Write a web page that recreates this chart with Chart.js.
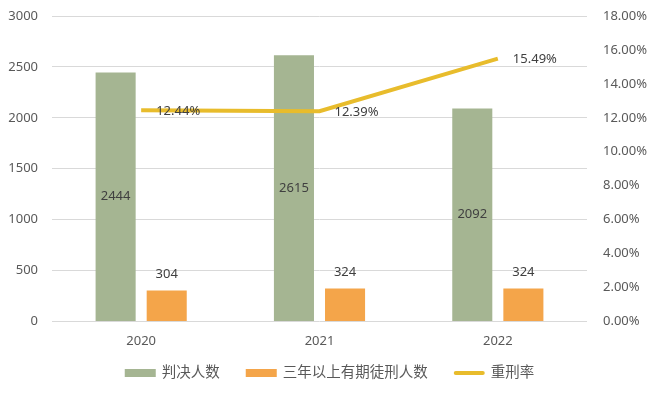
<!DOCTYPE html>
<html>
<head>
<meta charset="utf-8">
<script src="https://cdn.jsdelivr.net/npm/chart.js@4/dist/chart.umd.min.js"></script>
<style>
  html, body { margin: 0; padding: 0; background: #fff; }
  #wrap { width: 655px; height: 394px; }
</style>
</head>
<body>
<div id="wrap"><canvas id="myChart"></canvas></div>
<script>
// data
const years = ['2020', '2021', '2022'];
const judged = [2444, 2615, 2092];
const longTerm = [304, 324, 324];
const heavyRate = [12.44, 12.39, 15.49];

const leftTicks = [0, 500, 1000, 1500, 2000, 2500, 3000];
const rightTicks = [0, 2, 4, 6, 8, 10, 12, 14, 16, 18];

const FONT = "'Noto Sans', 'Noto Sans CJK SC', sans-serif";
const TEXT = '#595959';

// draws the value labels like the original
const valueLabels = {
  id: 'valueLabels',
  afterDatasetsDraw(chart) {
    const ctx = chart.ctx;
    ctx.save();
    ctx.font = '13px ' + FONT;
    ctx.fillStyle = '#404040';
    ctx.textBaseline = 'middle';
    chart.data.datasets.forEach((ds, di) => {
      const meta = chart.getDatasetMeta(di);
      meta.data.forEach((el, i) => {
        const v = ds.data[i];
        if (ds.type === 'line') {
          ctx.textAlign = 'left';
          ctx.fillText(v.toFixed(2) + '%', el.x + 15, el.y + 1);
        } else if (di === 0) {
          ctx.textAlign = 'center';
          ctx.fillText(v, el.x, (el.y + el.base) / 2);
        } else {
          ctx.textAlign = 'center';
          ctx.fillText(v, el.x, el.y - 16);
        }
      });
    });
    ctx.restore();
  }
};

// legend drawn by hand so its spacing can follow the original
const bottomLegend = {
  id: 'bottomLegend',
  afterDraw(chart) {
    const ctx = chart.ctx;
    ctx.save();
    ctx.font = '14.5px ' + FONT;
    ctx.textBaseline = 'middle';
    const box = 31, gap = 6, space = 26, cy = 373;
    const items = chart.data.datasets.map(ds => ({
      text: ds.label,
      color: ds.type === 'line' ? ds.borderColor : ds.backgroundColor,
      line: ds.type === 'line',
      w: box + gap + ctx.measureText(ds.label).width
    }));
    const total = items.reduce((s, it) => s + it.w, 0) + space * (items.length - 1);
    let x = (chart.width - total) / 2 + 2;
    items.forEach(it => {
      if (it.line) {
        ctx.strokeStyle = it.color;
        ctx.lineWidth = 4;
        ctx.lineCap = 'round';
        ctx.beginPath();
        ctx.moveTo(x + 2, cy);
        ctx.lineTo(x + box - 2, cy);
        ctx.stroke();
      } else {
        ctx.fillStyle = it.color;
        ctx.fillRect(x, cy - 4, box, 8);
      }
      ctx.fillStyle = TEXT;
      ctx.textAlign = 'left';
      ctx.fillText(it.text, x + box + gap, cy);
      x += it.w + space;
    });
    ctx.restore();
  }
};

const fitSide = w => s => {
  s.width = w;
  s.paddingTop = 0;
  s.paddingBottom = 0;
};

const ctx = document.getElementById('myChart').getContext('2d');
new Chart(ctx, {
  data: {
    labels: years,
    datasets: [{
      type: 'bar',
      label: '判决人数',
      data: judged,
      backgroundColor: '#A5B592',
      yAxisID: 'y',
      order: 1,
      categoryPercentage: 0.573,
      barPercentage: 0.784
    }, {
      type: 'bar',
      label: '三年以上有期徒刑人数',
      data: longTerm,
      backgroundColor: '#F4A54A',
      yAxisID: 'y',
      order: 1,
      categoryPercentage: 0.573,
      barPercentage: 0.784
    }, {
      type: 'line',
      label: '重刑率',
      data: heavyRate,
      borderColor: '#E8BC2C',
      backgroundColor: '#E8BC2C',
      borderWidth: 4,
      pointRadius: 0,
      tension: 0,
      yAxisID: 'y1',
      order: 0
    }]
  },
  options: {
    responsive: true,
    maintainAspectRatio: false,
    animation: false,
    layout: { padding: { top: 16, left: 0, right: 0, bottom: 41 } },
    plugins: {
      legend: { display: false },
      tooltip: { enabled: false }
    },
    scales: {
      x: {
        grid: { display: false },
        border: { display: false },
        ticks: { color: TEXT, font: { family: FONT, size: 13 }, padding: 4 }
      },
      y: {
        position: 'left',
        min: 0,
        max: 3000,
        afterFit: fitSide(52),
        afterBuildTicks: s => { s.ticks = leftTicks.map(v => ({ value: v })); },
        grid: { color: '#D9D9D9', drawTicks: false },
        border: { display: false },
        ticks: {
          color: TEXT,
          font: { family: FONT, size: 13 },
          padding: 14,
          callback: v => String(v)
        }
      },
      y1: {
        position: 'right',
        min: 0,
        max: 18,
        afterFit: fitSide(68),
        afterBuildTicks: s => { s.ticks = rightTicks.map(v => ({ value: v })); },
        grid: { display: false },
        border: { display: false },
        ticks: {
          color: TEXT,
          font: { family: FONT, size: 13 },
          padding: 8,
          callback: v => v.toFixed(2) + '%'
        }
      }
    }
  },
  plugins: [valueLabels, bottomLegend]
});
</script>
</body>
</html>
